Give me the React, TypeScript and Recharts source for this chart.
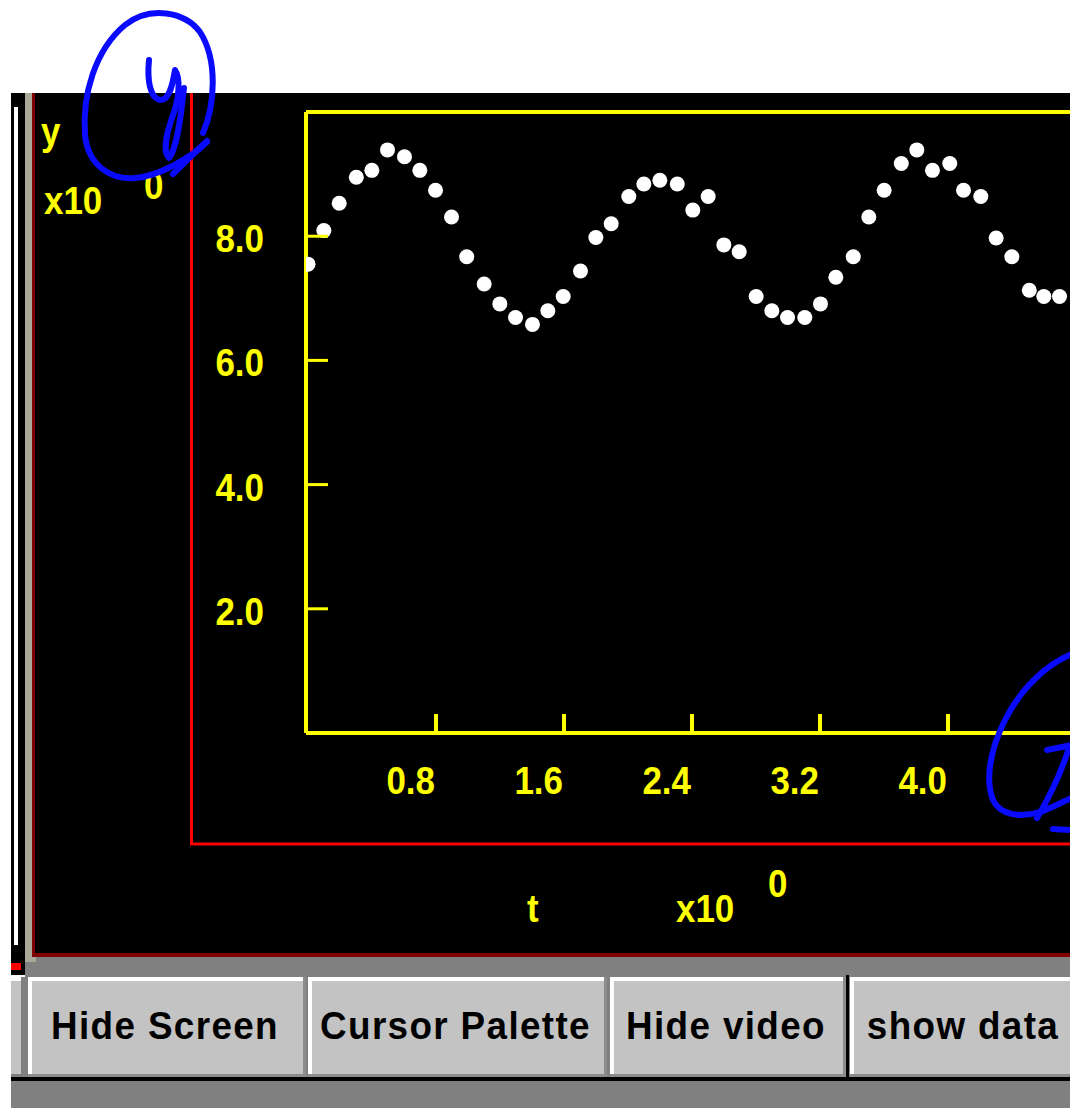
import React from "react";
import { ReferenceLine, Scatter, ScatterChart, XAxis, YAxis } from "recharts";

// t readings (x10^0) and y readings (x10^0), one per dot
const tValues = [
  0.0, 0.099, 0.195, 0.302, 0.399, 0.497, 0.603, 0.699, 0.797, 0.897,
  0.992, 1.101, 1.199, 1.297, 1.403, 1.499, 1.595, 1.703, 1.799, 1.895,
  2.005, 2.099, 2.199, 2.308, 2.405, 2.501, 2.599, 2.695, 2.801, 2.899,
  2.997, 3.105, 3.203, 3.299, 3.408, 3.505, 3.601, 3.708, 3.805, 3.903,
  4.011, 4.097, 4.205, 4.301, 4.399, 4.508, 4.599, 4.697,
];
const yValues = [
  7.55, 8.09, 8.53, 8.95, 9.06, 9.39, 9.28, 9.06, 8.74, 8.31,
  7.67, 7.23, 6.91, 6.69, 6.58, 6.8, 7.03, 7.44, 7.98, 8.2,
  8.64, 8.84, 8.9, 8.84, 8.42, 8.64, 7.86, 7.75, 7.03, 6.8,
  6.69, 6.69, 6.91, 7.34, 7.67, 8.31, 8.74, 9.17, 9.39, 9.06,
  9.17, 8.74, 8.64, 7.97, 7.67, 7.13, 7.03, 7.03,
];
const xTicks = [0.8, 1.6, 2.4, 3.2, 4.0];
const yTicks = [2, 4, 6, 8];
const buttonLabels = ["Hide Screen", "Cursor Palette", "Hide video", "show data"];

const data = tValues.map((t, i) => ({ t, y: yValues[i] }));

const YELLOW = "#ffff00";
const BLUE = "#0a0aff";
const labelFont: React.CSSProperties = {
  fontFamily: "'Liberation Sans', Arial, sans-serif",
  fontWeight: 700,
  fontSize: 38,
};
const buttonFont: React.CSSProperties = {
  fontFamily: "'Liberation Sans', Arial, sans-serif",
  fontWeight: 700,
  fontSize: 38,
  letterSpacing: 1.4,
};

// button geometry, left to right
const buttonBoxes = [
  { x: 28, w: 278 },
  { x: 308, w: 299 },
  { x: 610, w: 236 },
  { x: 850, w: 230 },
];

// old screen font: a bit narrower than Liberation Sans Bold
const ScreenText = ({ x, y, anchor = "start", fill = YELLOW, style = labelFont, sx = 0.92, children }: any) => (
  <text transform={`translate(${x},${y}) scale(${sx},1)`} textAnchor={anchor} fill={fill} style={style}>
    {children}
  </text>
);

const XTick = (props: any) => {
  const { x, y, payload } = props;
  return (
    <g>
      <line x1={x} y1={y} x2={x} y2={y - 19} stroke={YELLOW} strokeWidth={4} />
      <ScreenText x={x - 1} y={y + 61} anchor="end">
        {Number(payload.value).toFixed(1)}
      </ScreenText>
    </g>
  );
};

const YTick = (props: any) => {
  const { x, y, payload } = props;
  return (
    <g>
      <line x1={x} y1={y} x2={x + 22} y2={y} stroke={YELLOW} strokeWidth={3} />
      <ScreenText x={x - 42} y={y + 16} anchor="end">
        {Number(payload.value).toFixed(1)}
      </ScreenText>
    </g>
  );
};

const Dot = (p: any) => <circle cx={p.cx} cy={p.cy} r={7.5} fill="#ffffff" />;

const Frame = () => (
  <svg width={1070} height={1108} style={{ position: "absolute", left: 0, top: 0 }}>
    <rect x={0} y={0} width={1070} height={1108} fill="#ffffff" />
    {/* left border strips */}
    <rect x={11} y={93} width={14} height={882} fill="#000" />
    <rect x={14} y={107} width={4} height={838} fill="#fff" />
    <rect x={25} y={93} width={7} height={869} fill="#a8a898" />
    <rect x={32} y={93} width={3} height={864} fill="#800000" />
    {/* black screen */}
    <rect x={35} y={93} width={1035} height={860} fill="#000" />
    <rect x={32} y={953} width={1038} height={4} fill="#800000" />
    <rect x={25} y={957} width={1045} height={20} fill="#808080" />
    <rect x={25} y={957} width={11} height={5} fill="#a8a898" />
    <rect x={11} y={960} width={14} height={15} fill="#000" />
    <rect x={11} y={963} width={10} height={7} fill="#ff0000" />
    {/* red frame */}
    <rect x={190} y={93} width={3} height={752} fill="#ff0000" />
    <rect x={190} y={842.5} width={880} height={3} fill="#ff0000" />
    {/* button strip */}
    <rect x={11} y={977} width={1059} height={100} fill="#808080" />
    <rect x={11} y={977} width={10} height={97} fill="#c3c3c3" />
    <rect x={11} y={977} width={10} height={4} fill="#fff" />
    {buttonBoxes.map((b, i) => (
      <g key={i}>
        <rect x={b.x} y={977} width={b.w} height={100} fill="#c3c3c3" />
        <rect x={b.x} y={977} width={b.w} height={4} fill="#fff" />
        <rect x={b.x} y={977} width={4} height={100} fill="#fff" />
        <rect x={b.x + b.w - 3} y={977} width={3} height={100} fill="#8c8c8c" />
        <rect x={b.x} y={1074} width={b.w} height={3} fill="#8c8c8c" />
        <ScreenText x={b.x + b.w / 2 - 2} y={1039} anchor="middle" fill="#000" style={buttonFont} sx={0.97}>
          {buttonLabels[i]}
        </ScreenText>
      </g>
    ))}
    <rect x={846} y={975} width={3} height={102} fill="#000" />
    <rect x={11} y={1077} width={1059} height={4} fill="#000" />
    <rect x={11} y={1081} width={1059} height={27} fill="#808080" />
    {/* axis captions */}
    <ScreenText x={41} y={145}>y</ScreenText>
    <ScreenText x={44} y={214}>x10</ScreenText>
    <ScreenText x={144} y={199}>0</ScreenText>
    <ScreenText x={527} y={922}>t</ScreenText>
    <ScreenText x={676} y={922}>x10</ScreenText>
    <ScreenText x={768} y={897}>0</ScreenText>
  </svg>
);

const Marks = () => (
  <svg width={1070} height={1108} style={{ position: "absolute", left: 0, top: 0, pointerEvents: "none" }}>
    <g fill="none" stroke={BLUE} strokeWidth={6} strokeLinecap="round" strokeLinejoin="round">
      <path d="M203,133 C215,105 218,60 200,32 C185,12 150,5 125,25 C95,50 82,95 85,135 C88,165 110,180 135,178 C160,176 190,158 207,142" />
      <path d="M207,141 C195,152 183,165 173,174" />
      <path d="M149,60 C147,80 150,98 160,100 C170,101 173,82 175,70 C181,78 179,100 172,118 C166,135 163,152 169,158 C176,150 180,125 184,88" />
      <path d="M1072,654 C1045,665 1020,690 1005,720 C990,750 985,780 993,800 C1000,815 1020,818 1040,812 C1052,808 1062,802 1072,798" />
      <path d="M1047,750 L1072,745" />
      <path d="M1069,748 C1061,773 1050,796 1037,818" />
      <path d="M1053,829 L1072,830" />
    </g>
  </svg>
);

export default function App() {
  return (
    <div style={{ position: "absolute", left: 0, top: 0, width: 1070, height: 1108, overflow: "hidden" }}>
      <Frame />
      <div style={{ position: "absolute", left: 0, top: 0 }}>
        <ScatterChart width={1120} height={1108} margin={{ top: 112, right: 14, bottom: 275, left: 206 }}>
          <XAxis
            type="number"
            dataKey="t"
            domain={[-0.0125, 4.9875]}
            ticks={xTicks}
            allowDataOverflow
            height={100}
            tickSize={0}
            tickMargin={0}
            tickLine={false}
            axisLine={{ stroke: YELLOW, strokeWidth: 4 }}
            tick={<XTick />}
          />
          <YAxis
            type="number"
            dataKey="y"
            domain={[0, 10]}
            ticks={yTicks}
            allowDataOverflow
            width={100}
            tickSize={0}
            tickMargin={0}
            tickLine={false}
            axisLine={{ stroke: YELLOW, strokeWidth: 4 }}
            tick={<YTick />}
          />
          <ReferenceLine y={10} stroke={YELLOW} strokeWidth={4} />
          <Scatter data={data} shape={Dot} isAnimationActive={false} />
        </ScatterChart>
      </div>
      <Marks />
    </div>
  );
}
